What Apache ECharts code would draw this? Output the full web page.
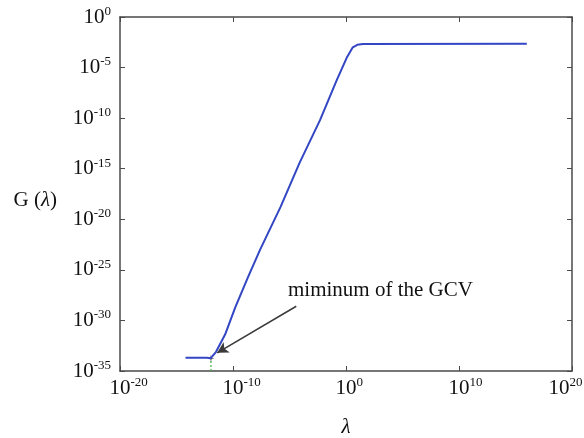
<!DOCTYPE html>
<html>
<head>
<meta charset="utf-8">
<script src="https://cdn.jsdelivr.net/npm/echarts@6/dist/echarts.min.js"></script>
<style>
  html, body { margin: 0; padding: 0; background: #fff; }
  #chart { width: 584px; height: 438px; }
</style>
</head>
<body>
<div id="chart"></div>
<script>
// exponents (log10 of lambda and of G), plotted on decade axes
const lambdaExp = [-14.2, -12.3, -12.0, -11.8, -11.5, -10.7, -9.8, -8.7, -7.6, -5.8, -4.1, -2.3, -0.8, 0.1, 0.6, 1.0, 1.5, 16.0];
const gcvExp = [-33.7, -33.7, -33.75, -33.5, -33.1, -31.4, -28.7, -25.8, -23.0, -18.8, -14.4, -10.2, -6.2, -3.95, -3.0, -2.75, -2.66, -2.65];

const minLambdaExp = -11.95;
const minGcvExp = -33.75;
const arrowFrom = [-4.4, -28.6];
const arrowTo = [-11.4, -33.2];
const noteText = "miminum of the GCV";

const chart = echarts.init(document.getElementById("chart"), null, { renderer: "canvas" });

const serif = "Liberation Serif";
const axisColor = "#4a4a4a";

// y labels: right aligned; x labels: "10" centred on the tick, exponent hanging right
function yLabel(v) {
  return "{b|10}{s|" + Math.round(v) + "}";
}
function xLabel(v) {
  const e = Math.round(v);
  if (e >= 20) {
    // last label is pulled back inside the figure
    return "{b|10}{s|" + e + "}{h|" + e + "}";
  }
  return "{h|" + e + "}{b|10}{s|" + e + "}";
}

const richLabel = {
  b: { fontFamily: serif, fontSize: 21, color: "#111", lineHeight: 24 },
  s: { fontFamily: serif, fontSize: 13, color: "#111", verticalAlign: "top", lineHeight: 13 },
  h: { fontFamily: serif, fontSize: 13, color: "rgba(0,0,0,0)", verticalAlign: "top", lineHeight: 13 },
};

const series = lambdaExp.map((x, i) => [x, gcvExp[i]]);

function frameAxis(pos, min, max, step) {
  return {
    type: "value",
    min: min,
    max: max,
    interval: step,
    position: pos,
    axisLine: { onZero: false, lineStyle: { color: axisColor, width: 1.5 } },
    axisTick: { inside: true, length: 5, lineStyle: { color: axisColor } },
    axisLabel: { show: false },
    splitLine: { show: false },
  };
}

const option = {
  animation: false,
  backgroundColor: "#fff",
  grid: { left: 120, right: 12, top: 17, bottom: 67, containLabel: false, outerBoundsMode: "none" },
  xAxis: [
    {
      type: "value",
      min: -20,
      max: 20,
      interval: 10,
      name: "λ",
      nameLocation: "middle",
      nameGap: 46,
      nameTextStyle: { fontFamily: serif, fontSize: 21, fontStyle: "italic", color: "#111" },
      axisLine: { onZero: false, lineStyle: { color: axisColor, width: 1.5 } },
      axisTick: { inside: true, length: 5, lineStyle: { color: axisColor } },
      splitLine: { show: false },
      axisLabel: { formatter: xLabel, rich: richLabel, margin: 5 },
    },
    frameAxis("top", -20, 20, 10),
  ],
  yAxis: [
    {
      type: "value",
      min: -35,
      max: 0,
      interval: 5,
      name: "{n|G (}{i|λ}{n|)}",
      nameLocation: "middle",
      nameGap: 63,
      nameRotate: 0,
      nameTextStyle: {
        padding: [12, 0, 0, 0],
        rich: {
          n: { fontFamily: serif, fontSize: 21, color: "#111" },
          i: { fontFamily: serif, fontSize: 21, fontStyle: "italic", color: "#111" },
        },
      },
      axisLine: { onZero: false, lineStyle: { color: axisColor, width: 1.5 } },
      axisTick: { inside: true, length: 5, lineStyle: { color: axisColor } },
      splitLine: { show: false },
      axisLabel: { formatter: yLabel, rich: richLabel, margin: 9 },
    },
    frameAxis("right", -35, 0, 5),
  ],
  series: [
    {
      type: "line",
      data: series,
      showSymbol: false,
      lineStyle: { color: "#3346c4", width: 2 },
      markLine: {
        silent: true,
        symbol: ["none", "arrow"],
        symbolSize: [9, 11],
        lineStyle: { color: "#3a3a3a", width: 1.5, type: "solid" },
        label: { show: false },
        data: [[{ coord: arrowFrom }, { coord: arrowTo }]],
      },
    },
    {
      type: "line",
      data: [[minLambdaExp, -35], [minLambdaExp, minGcvExp - 0.2]],
      showSymbol: false,
      lineStyle: { color: "#3cb043", width: 1.2, type: [2, 2] },
    },
    {
      type: "scatter",
      data: [[minLambdaExp, minGcvExp]],
      symbol: "path://M0,-5L1,-1L5,0L1,1L0,5L-1,1L-5,0L-1,-1Z",
      symbolSize: 7,
      itemStyle: { color: "#222" },
    },
  ],
  graphic: [
    {
      type: "text",
      left: 288,
      top: 280,
      style: { text: noteText, fontFamily: serif, fontSize: 21, fill: "#111" },
    },
  ],
};

chart.setOption(option);
</script>
</body>
</html>
